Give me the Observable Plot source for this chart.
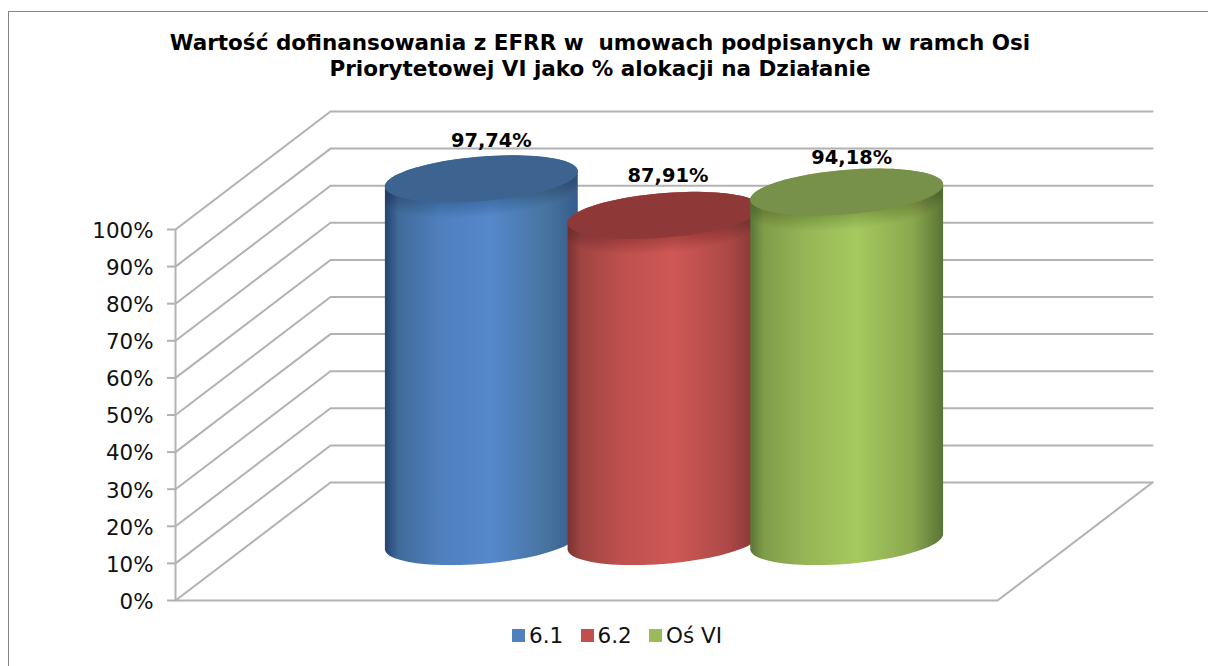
<!DOCTYPE html>
<html>
<head>
<meta charset="utf-8">
<script src="https://cdn.jsdelivr.net/npm/d3@7"></script>
<script src="https://cdn.jsdelivr.net/npm/@observablehq/plot@0.6"></script>
<style>
html,body{margin:0;padding:0;background:#fff;overflow:hidden;width:1208px;height:666px;font-family:"DejaVu Sans",sans-serif;color:#000}
#frame{position:absolute;left:8px;top:11px;width:1400px;height:900px;border:1.5px solid #868686;box-sizing:border-box}
#page{position:absolute;left:0;top:0;width:1208px;height:666px}
#title{height:90px;box-sizing:border-box;padding:30px 8px 0 0;text-align:center;font-weight:bold;font-size:21.5px;line-height:26px;white-space:pre}
#legend{position:relative;height:46px;font-size:21.5px;color:#111}
#legend .sw{position:absolute;top:9px;width:13px;height:13px}
#legend .lb{position:absolute;top:4px;line-height:24px;white-space:pre}
svg{display:block}
</style>
</head>
<body>
<div id="frame"></div>
<div id="page">
  <div id="title"></div>
  <div id="chart"></div>
  <div id="legend"></div>
</div>
<script>
const titleLines = ["Wartość dofinansowania z EFRR w  umowach podpisanych w ramch Osi", "Priorytetowej VI jako % alokacji na Działanie"];
const categories = ["6.1", "6.2", "Oś VI"];
const values = [97.74, 87.91, 94.18];
const valueLabels = ["97,74%", "87,91%", "94,18%"];
const axisTicks = [0, 10, 20, 30, 40, 50, 60, 70, 80, 90, 100];
const legendColors = ["#4f81bd", "#c0504d", "#9bbb59"];
const stopOffsets = [0, 0.07, 0.28, 0.55, 0.84, 1];
const bodyStops = [
  ["#24456f", "#3f6a9b", "#4f7fbd", "#5588cc", "#47739f", "#355c8a"],
  ["#7a3231", "#a04442", "#bd504e", "#cf5856", "#ab4846", "#7f3534"],
  ["#5b7536", "#7f9c49", "#96b556", "#a6c95f", "#8aa84f", "#5a7335"]
];
const topColors = ["#3d6491", "#8e3938", "#78914a"];

// 3-D layout, in scale units: the x unit is one cylinder's diameter
const gapSides = 0.75, xSpan = 4.5;
const depthX = 0.8486, depthY = 31.8;   // offset from the front plane to the back wall
const radiusFront = 0.5, radiusDepth = 0.2;  // circle radius along front and depth
const depthCentre = 0.5;
const rimDrop = [0.4, 0.8, 1.2, 1.6, 2, 2.4, 2.8, 3.2, 3.6, 4];  // shading just under the cylinder's rim
const labelShiftX = [0.011, -0.022, -0.016];
const labelShiftY = [0, 0.5, -1.0];

const centres = categories.map((_, i) => gapSides + 0.5 + i);
const angles = d3.range(0, 360, 4).map(d => d * Math.PI / 180);
const ring = (i, h) => angles.map(t => ({
  x: centres[i] + depthCentre * depthX + radiusFront * Math.cos(t) + radiusDepth * depthX * Math.sin(t),
  y: h + depthCentre * depthY + radiusDepth * depthY * Math.sin(t)
}));
const hull = i => d3.polygonHull([...ring(i, 0), ...ring(i, values[i])].map(p => [p.x, p.y]))
  .map(([x, y]) => ({x, y}));

const wallLines = axisTicks.map(v => [
  {x: 0, y: v, z: v},
  {x: depthX, y: v + depthY, z: v},
  {x: xSpan + depthX, y: v + depthY, z: v}
]).flat();
const floorEdge = [{x: 0, y: 0}, {x: xSpan, y: 0}, {x: xSpan + depthX, y: depthY}];

function gradients() {
  const defs = d3.create("svg:defs");
  bodyStops.forEach((stops, i) => {
    const g = defs.append("linearGradient").attr("id", "body" + i).attr("x1", 0).attr("x2", 1).attr("y1", 0).attr("y2", 0);
    stopOffsets.forEach((o, k) => g.append("stop").attr("offset", o).attr("stop-color", stops[k]));
  });
  return defs.node();
}

const cylinders = categories.flatMap((_, i) => [
  Plot.line(hull(i), {x: "x", y: "y", fill: `url(#body${i})`, stroke: "none"}),
  ...rimDrop.slice().reverse().map(d =>
    Plot.line(ring(i, values[i] - d), {x: "x", y: "y", fill: "#000", fillOpacity: 0.016, stroke: "none"})),
  Plot.line(ring(i, values[i]), {x: "x", y: "y", fill: topColors[i], stroke: "none"})
]);

const gridColor = "#b2b2b2";
const plot = Plot.plot({
  width: 1208, height: 530,
  marginLeft: 175, marginRight: 211, marginTop: 139, marginBottom: 20,
  x: {domain: [0, xSpan], axis: null},
  y: {domain: [0, 100]},
  style: {background: "transparent", fontFamily: "'DejaVu Sans',sans-serif"},
  marks: [
    gradients,
    Plot.line(wallLines, {x: "x", y: "y", z: "z", stroke: gridColor, strokeWidth: 2, strokeLinejoin: "miter"}),
    Plot.line(floorEdge, {x: "x", y: "y", stroke: gridColor, strokeWidth: 2, strokeLinejoin: "miter"}),
    Plot.ruleX([0], {y1: 0, y2: 100, stroke: gridColor, strokeWidth: 2}),
    Plot.axisY({
      ticks: axisTicks, tickFormat: () => "", tickSize: 8,
      stroke: gridColor, strokeWidth: 2, strokeOpacity: 1, label: null
    }),
    Plot.text(axisTicks, {
      x: 0, y: d => d, text: d => d + "%", textAnchor: "end",
      dx: -22, dy: 1.5, fontSize: 21.4, fill: "#111"
    }),
    ...cylinders,
    Plot.text(categories, {
      x: (_, i) => centres[i] + depthCentre * depthX + labelShiftX[i],
      y: (_, i) => values[i] + depthCentre * depthY + labelShiftY[i],
      text: (_, i) => valueLabels[i],
      dx: 8, dy: -38, fontSize: 19.4, fontWeight: "bold", fill: "#000"
    })
  ]
});
document.getElementById("chart").appendChild(plot);

document.getElementById("title").textContent = titleLines.join("\n");

const legend = d3.select("#legend");
const swatchLeft = [512, 580.5, 649];
categories.forEach((c, i) => {
  legend.append("div").attr("class", "sw").style("left", swatchLeft[i] + "px").style("background", legendColors[i]);
  legend.append("div").attr("class", "lb").style("left", (swatchLeft[i] + 17) + "px").text(c);
});
</script>
</body>
</html>
